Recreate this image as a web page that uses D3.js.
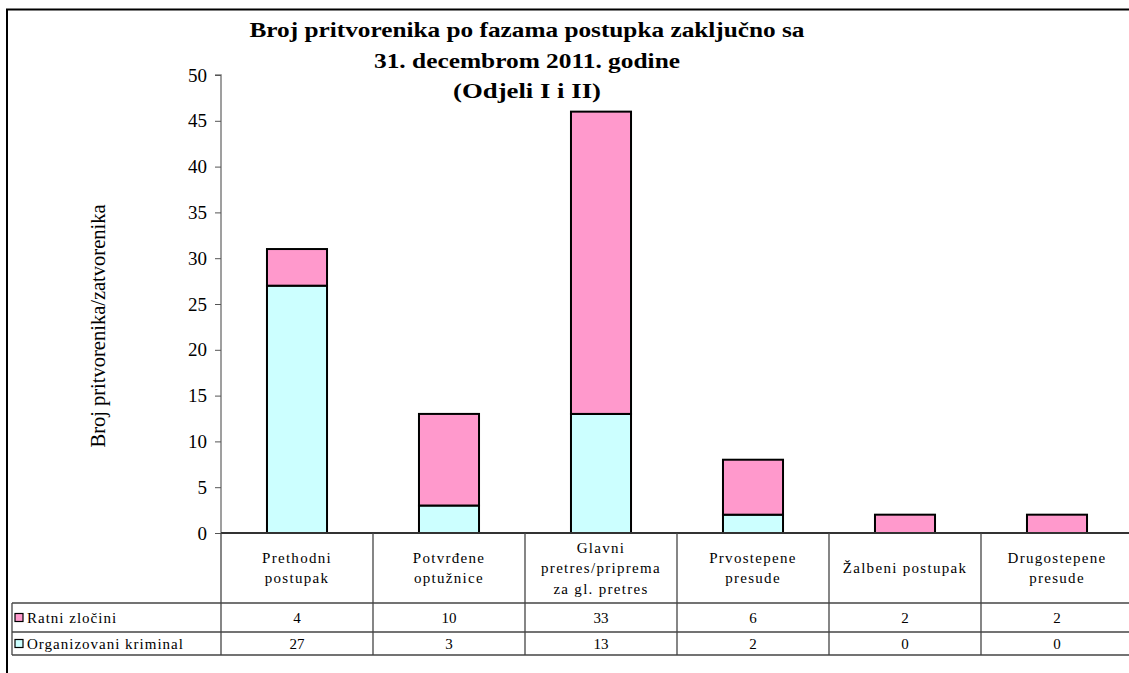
<!DOCTYPE html>
<html><head><meta charset="utf-8">
<script src="https://cdn.jsdelivr.net/npm/d3@7"></script>
<style>html,body{margin:0;padding:0;background:#fff;} svg{display:block;}
svg text{font-family:"Liberation Serif","Times New Roman",Times,serif;}
</style>
</head><body>
<svg id="c" width="1129" height="673"></svg>
<script>
const categories = [
  ["Prethodni","postupak"],
  ["Potvrđene","optužnice"],
  ["Glavni","pretres/priprema","za gl. pretres"],
  ["Prvostepene","presude"],
  ["Žalbeni postupak"],
  ["Drugostepene","presude"]
];
const catKeys = categories.map(d => d.join(" "));
const seriesNames = ["Organizovani kriminal", "Ratni zločini"];
const organizovani = [27, 3, 13, 2, 0, 0];
const ratni = [4, 10, 33, 6, 2, 2];
const colors = ["#CCFFFF", "#FF99CC"];
const yTicks = [0,5,10,15,20,25,30,35,40,45,50];
const titleLines = ["Broj pritvorenika po fazama postupka zaključno sa", "31. decembrom 2011. godine", "(Odjeli I i II)"];
const yTitle = "Broj pritvorenika/zatvorenika";

const svg = d3.select("#c");

// frame
svg.append("rect").attr("x",7).attr("y",9.5).attr("width",1140).attr("height",700)
  .attr("fill","none").attr("stroke","#000").attr("stroke-width",2);

const x0 = 221, x1 = 1133, yTop = 75, yBot = 533;
const xCol = d3.scaleBand().domain(catKeys).range([x0, x1]).padding(0);
const xBar = d3.scaleBand().domain(catKeys).range([x0, x1]).paddingInner(0.605).paddingOuter(0.3025);
const y = d3.scaleLinear().domain([0, 50]).range([yBot, yTop]);

// y axis
const yAxis = d3.axisLeft(y).tickValues(yTicks).tickSize(6).tickPadding(8).tickFormat(d3.format("d"));
const gy = svg.append("g").attr("transform",`translate(${x0},0)`).call(yAxis).attr("font-family",null);
gy.select(".domain").attr("stroke","#808080").attr("stroke-width",1.5).attr("d",`M-6,${yTop}H0V${yBot}`);
gy.selectAll(".tick line").attr("stroke","#555");
gy.selectAll(".tick text").attr("font-size",19).attr("fill","#000");

// stacked bars
const stackData = catKeys.map((k,i) => ({key:k, "Organizovani kriminal":organizovani[i], "Ratni zločini":ratni[i]}));
const stacked = d3.stack().keys(seriesNames)(stackData);
stacked.forEach((s, si) => {
  svg.append("g").selectAll("rect").data(s.filter(d => d[1]-d[0] > 0)).join("rect")
    .attr("x", d => xBar(d.data.key))
    .attr("width", xBar.bandwidth())
    .attr("y", d => y(d[1]))
    .attr("height", d => y(d[0]) - y(d[1]))
    .attr("fill", colors[si]).attr("stroke","#000").attr("stroke-width",2);
});

// zero line
svg.append("line").attr("x1",x0).attr("x2",1129).attr("y1",yBot).attr("y2",yBot).attr("stroke","#333").attr("stroke-width",2);

// table
const rowY = [603, 632, 655];
const tbl = svg.append("g").attr("stroke","#444").attr("stroke-width",1.3);
catKeys.forEach(k => {
  tbl.append("line").attr("x1",xCol(k)).attr("x2",xCol(k)).attr("y1",yBot).attr("y2",rowY[2]);
});
tbl.append("line").attr("x1",x1).attr("x2",x1).attr("y1",yBot).attr("y2",rowY[2]);
tbl.append("line").attr("x1",12).attr("x2",12).attr("y1",rowY[0]).attr("y2",rowY[2]);
rowY.forEach(ry => tbl.append("line").attr("x1",12).attr("x2",1129).attr("y1",ry).attr("y2",ry));

// category labels
const labG = svg.append("g").attr("font-size",15).attr("fill","#000")
  .attr("text-anchor","middle").attr("letter-spacing",1.3);
categories.forEach((lines,i) => {
  const cx = xCol(catKeys[i]) + xCol.bandwidth()/2;
  const lh = 20.5;
  const startY = (yBot + rowY[0]) / 2 - (lines.length - 1) * lh / 2 + 5;
  lines.forEach((ln, j) => labG.append("text").attr("x",cx).attr("y",startY + j*lh).text(ln));
});

// legend rows + values
const rowsData = [["Ratni zločini", ratni, colors[1]], ["Organizovani kriminal", organizovani, colors[0]]];
rowsData.forEach((r, ri) => {
  const cy = (rowY[ri] + rowY[ri+1]) / 2;
  svg.append("rect").attr("x",15).attr("y",cy-4).attr("width",8).attr("height",8)
    .attr("fill",r[2]).attr("stroke","#000").attr("stroke-width",1.2);
  svg.append("text").attr("x",27).attr("y",cy+5).attr("font-size",15)
    .attr("letter-spacing",1).text(r[0]);
  r[1].forEach((v,i) => {
    svg.append("text").attr("x",xCol(catKeys[i]) + xCol.bandwidth()/2).attr("y",cy+5)
      .attr("text-anchor","middle").attr("font-size",15).text(v);
  });
});

// title
const tw = [555, 306, 148];
titleLines.forEach((t,i) => {
  svg.append("text").attr("x",527).attr("y",37 + i*30.5).attr("text-anchor","middle")
    .attr("font-weight","bold").attr("font-size",21)
    .attr("textLength",tw[i]).attr("lengthAdjust","spacingAndGlyphs").text(t);
});

// y title
svg.append("text").attr("transform","translate(105,326) rotate(-90)").attr("text-anchor","middle")
  .attr("font-size",20.5).text(yTitle);
</script>
</body></html>
